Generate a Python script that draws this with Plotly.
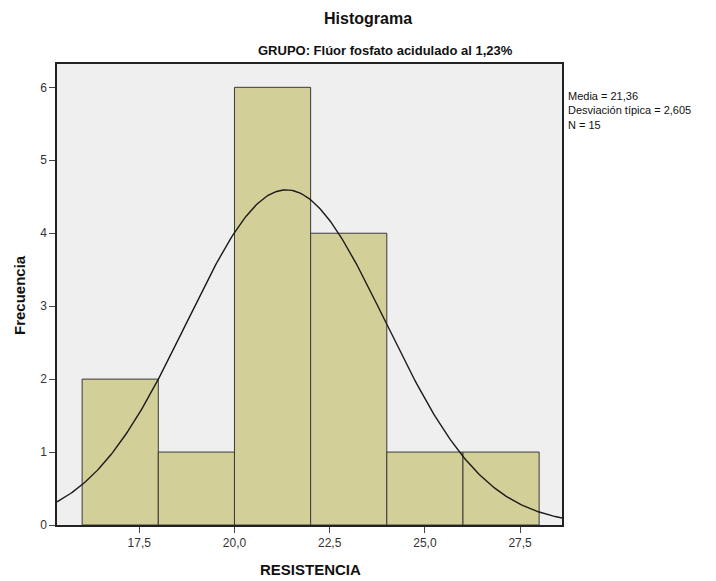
import numpy as np
import plotly.graph_objects as go

bin_edges = [16, 18, 20, 22, 24, 26, 28]
counts = [2, 1, 6, 4, 1, 1]
mean = 21.36
std = 2.605
n = 15
x_ticks = [17.5, 20.0, 22.5, 25.0, 27.5]
y_ticks = [0, 1, 2, 3, 4, 5, 6]

centers = [(a + b) / 2 for a, b in zip(bin_edges[:-1], bin_edges[1:])]
widths = [b - a for a, b in zip(bin_edges[:-1], bin_edges[1:])]
bw = widths[0]

x_range = [15.34, 28.6]
xc = np.linspace(x_range[0], x_range[1], 300)
yc = n * bw * np.exp(-0.5 * ((xc - mean) / std) ** 2) / (std * np.sqrt(2 * np.pi))

FONT = "Liberation Sans, Arial, sans-serif"

W, H = 716, 581
l, r, t, b = 57, 154, 64, 56
pw, ph = W - l - r, H - t - b


def px(x, y):
    return (x - l) / pw, 1 - (y - t) / ph


def ann(text, x, y, size, xanchor="center", yanchor="middle", angle=0, align="center"):
    ax, ay = px(x, y)
    return dict(text=text, x=ax, y=ay, xref="paper", yref="paper", showarrow=False,
                xanchor=xanchor, yanchor=yanchor, textangle=angle, align=align,
                font=dict(size=size, color="#111111", family=FONT))


fig = go.Figure()
fig.add_trace(go.Bar(
    x=centers, y=counts, width=widths,
    marker=dict(color="#d3cf98", line=dict(color="#3a3a3a", width=1)),
    hoverinfo="x+y",
))
fig.add_trace(go.Scatter(
    x=xc, y=yc, mode="lines",
    line=dict(color="#1a1a1a", width=1.4),
    hoverinfo="skip",
))

fig.update_layout(
    width=W, height=H,
    margin=dict(l=l, r=r, t=t, b=b),
    paper_bgcolor="white",
    plot_bgcolor="#efefef",
    showlegend=False,
    separators=",.",
    font=dict(family=FONT, size=12, color="#222222"),
    annotations=[
        ann("<b>Histograma</b>", 368, 18, 16),
        ann("<b>GRUPO: Flúor fosfato acidulado al 1,23%</b>", 385, 50, 13),
        ann("Media = 21,36<br>Desviación típica = 2,605<br>N = 15", 566, 88, 11,
            xanchor="left", yanchor="top", align="left"),
        ann("<b>Frecuencia</b>", 19, 295, 15, angle=-90),
        ann("<b>RESISTENCIA</b>", 310, 569, 15),
    ],
)

fig.update_xaxes(
    range=x_range, tickvals=x_ticks,
    ticktext=[f"{v:.1f}".replace(".", ",") for v in x_ticks],
    showgrid=False, zeroline=False, showline=True, linecolor="#222222", linewidth=1.5,
    mirror=True, ticks="outside", ticklen=6, tickcolor="#444444",
    tickfont=dict(size=12, color="#333333"),
)
fig.update_yaxes(
    range=[0, 6.32], tickvals=y_ticks,
    showgrid=False, zeroline=False, showline=True, linecolor="#222222", linewidth=1.5,
    mirror=True, ticks="outside", ticklen=6, tickcolor="#444444",
    tickfont=dict(size=12, color="#333333"),
)

fig.write_html(
    "out.html",
    config={"displayModeBar": False},
    post_script="document.body.style.margin='0';document.body.style.overflow='hidden';",
)
